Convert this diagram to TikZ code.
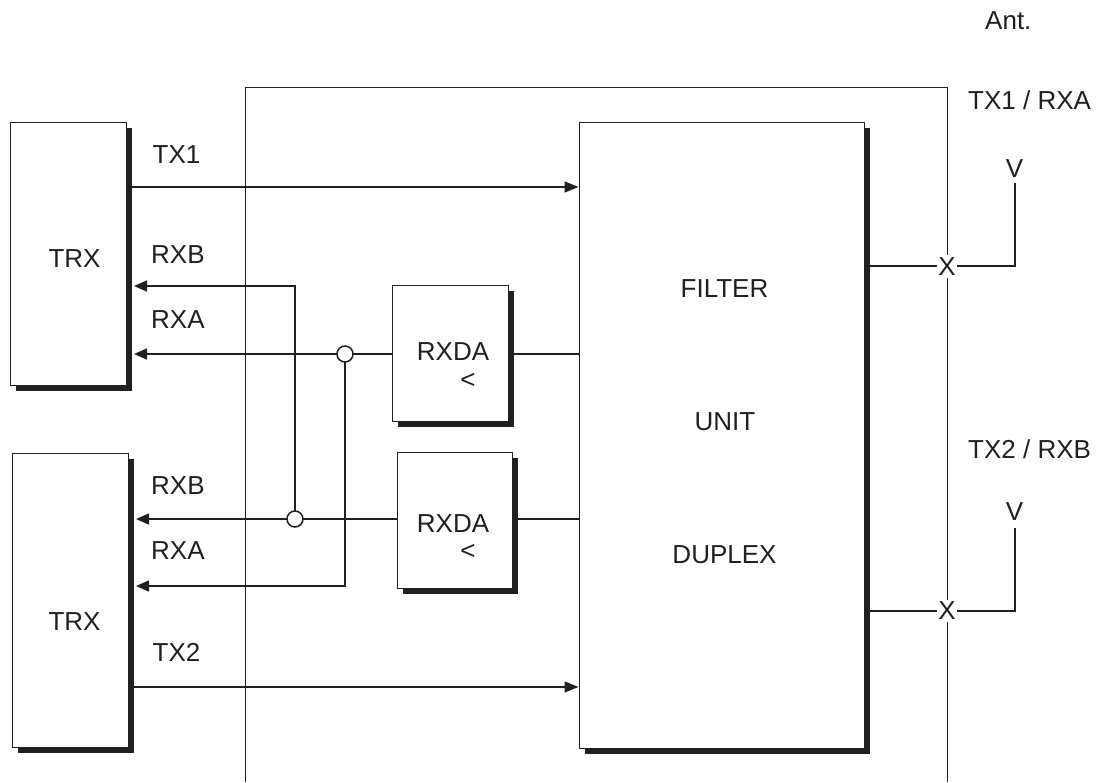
\documentclass[tikz,border=0pt]{standalone}
\usepackage{fontspec}
\setmainfont{Liberation Sans}
\usetikzlibrary{arrows.meta}
\definecolor{ink}{HTML}{231F20}
\tikzset{
  x=1pt,y=-1pt,
  wire/.style={draw=ink,line width=1.5pt},
  toblock/.style={wire,-{Triangle[length=14pt,width=11pt]}},
  totrx/.style={wire,-{Triangle[length=13pt,width=11pt]},shorten >=2pt},
  boxface/.style={draw=ink,line width=1pt,fill=white,inner sep=0pt},
  boxshade/.style={fill=ink,draw=none,inner sep=0pt},
  lab/.style={font=\fontsize{26}{28}\selectfont,text=ink,inner sep=0pt,anchor=base},
  labw/.style={lab,anchor=base west},
  junction/.style={circle,draw=ink,line width=1.5pt,fill=white,minimum size=16pt,inner sep=0pt},
  cross/.style={lab,anchor=center,fill=white,inner xsep=1.5pt,inner ysep=2.5pt},
}
\newcommand{\blockbox}[5]{% name, x0, y0, x1, y1
  \path[boxshade] (#2+6,#3+6) rectangle (#4+6,#5+6);
  \node[boxface,minimum width=#4-#2,minimum height=#5-#3] (#1) at ({(#2+#4)/2},{(#3+#5)/2}) {};
  \coordinate (#1s) at (#4+6,{(#3+#5)/2});
}
\begin{document}
\begin{tikzpicture}
\useasboundingbox[fill=white] (0,0) rectangle (1099,782);
% frame
\coordinate (fbl) at (245,782);
\coordinate (ftl) at (245,87);
\coordinate (ftr) at (947,87);
\coordinate (fbr) at (947,782);
\draw[draw=ink,line width=1pt] (fbl) -- (ftl) -- (ftr) -- (fbr);
% blocks
\blockbox{trxa}{10}{122}{126}{385}
\blockbox{trxb}{12}{453}{128}{747}
\blockbox{rxa}{392}{285}{508}{421}
\blockbox{rxb}{397}{452}{512}{588}
\blockbox{fil}{579}{122}{864}{748}
% routing points
\coordinate (j1c) at (345,354);
\coordinate (j2c) at (295,519);
\coordinate (c1) at (295,286);
\coordinate (c2) at (345,586);
\coordinate (t1) at (300,187);
\coordinate (t2) at (300,687);
\coordinate (a1) at (1015,266);
\coordinate (a2) at (1015,611);
\coordinate (ax1) at (870,266);
\coordinate (ax2) at (870,611);
\coordinate (vt1) at (1015,183);
\coordinate (vt2) at (1015,528);
% TX paths
\draw[toblock] (trxas |- t1) -- (fil.west |- t1);
\draw[toblock] (trxbs |- t2) -- (fil.west |- t2);
% RX paths
\draw[totrx] (rxa.west |- j1c) -- (trxas |- j1c);
\draw[totrx] (rxb.west |- j2c) -- (trxbs |- j2c);
\draw[wire] (rxas |- j1c) -- (fil.west |- j1c);
\draw[wire] (rxbs |- j2c) -- (fil.west |- j2c);
\draw[totrx] (j2c) -- (c1) -- (trxas |- c1);
\draw[totrx] (j1c) -- (c2) -- (trxbs |- c2);
\node[junction] (j1) at (j1c) {};
\node[junction] (j2) at (j2c) {};
% antenna crossings
\draw[wire,line join=miter] (ax1) -- (a1) -- (vt1);
\draw[wire,line join=miter] (ax2) -- (a2) -- (vt2);
\node[cross] (x1) at (947,266.5) {X};
\node[cross] (x2) at (947,611) {X};
\node[lab] (v1) at (1014.5,177) {V};
\node[lab] (v2) at (1014.5,520) {V};
% labels
\node[labw] (ant) at (985,29) {Ant.};
\node[labw] (p1) at (968,109) {TX1 / RXA};
\node[labw] (p2) at (968,458) {TX2 / RXB};
\node[labw] (tx1) at (152.5,163) {TX1};
\node[labw] (rb1) at (151,263) {RXB};
\node[labw] (ra1) at (151,328) {RXA};
\node[labw] (rb2) at (151,494) {RXB};
\node[labw] (ra2) at (151,559) {RXA};
\node[labw] (tx2) at (152.5,661) {TX2};
\node[lab] (t1l) at (74.5,267) {TRX};
\node[lab] (t2l) at (74.5,630) {TRX};
\node[lab] (r1l) at (453,360) {RXDA};
\node[lab] (r1m) at (468,388) {<};
\node[lab] (r2l) at (453,532) {RXDA};
\node[lab] (r2m) at (468,559.5) {<};
\node[lab] (f1) at (724.5,297) {FILTER};
\node[lab] (f2) at (725,430) {UNIT};
\node[lab] (f3) at (724.5,563) {DUPLEX};
\end{tikzpicture}
\end{document}
